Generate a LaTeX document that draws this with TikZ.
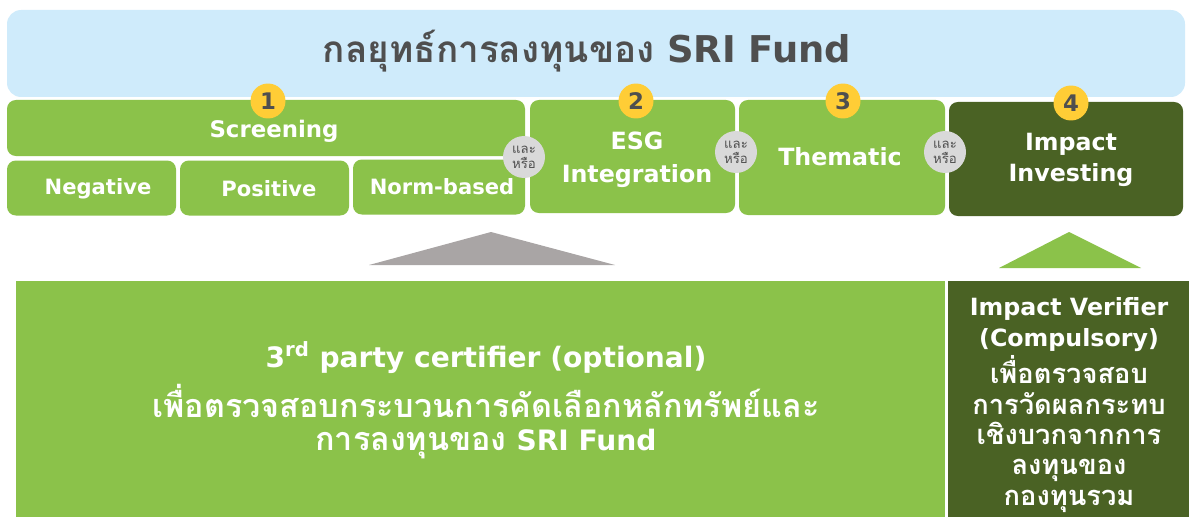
\documentclass[tikz,border=0pt]{standalone}
\usepackage{fontspec}
\setmainfont{DejaVu Sans}
\newfontfamily\thaifont[Script=Thai,Scale=1.15]{Loma}
\newfontfamily\thaititle[Script=Thai]{Loma}
\definecolor{skyband}{HTML}{CFEBFB}
\definecolor{leafgreen}{HTML}{8BC24A}
\definecolor{darkleaf}{HTML}{4A6224}
\definecolor{badgeyellow}{HTML}{FFCD36}
\definecolor{andorgrey}{HTML}{D9D9D9}
\definecolor{arrowgrey}{HTML}{A9A5A5}
\definecolor{titlegrey}{HTML}{4F4F4F}
\tikzset{
  pxbox/.style 2 args={rectangle, rounded corners=5pt, inner sep=0pt,
    minimum width={#1*0.02cm}, minimum height={#2*0.02cm},
    text=white, font=\bfseries, align=center},
  boxtext/.style={text=white, align=center, inner sep=0pt},
  badge/.style={circle, fill=badgeyellow, minimum size=0.7cm, inner sep=0pt,
    text=titlegrey, font=\bfseries\fontsize{13}{13}\selectfont},
  andor/.style={circle, fill=andorgrey, minimum size=0.84cm, inner sep=0pt,
    text=titlegrey, align=center, font=\thaititle\fontsize{7.5}{8.5}\selectfont}
}
\begin{document}
\begin{tikzpicture}[x=0.02cm, y=-0.02cm]
  \useasboundingbox (0,0) rectangle (1189,517);
  % title band
  \node[pxbox={1178}{87}, fill=skyband, rounded corners=8pt] (band) at (596,53.5) {};
  \node[text=titlegrey, font=\bfseries\fontsize{21}{24}\selectfont] (title) at (587,51)
    {{\thaititle กลยุทธ์การลงทุนของ} SRI Fund};
  % strategy boxes
  \node[pxbox={518}{56}, fill=leafgreen] (screen) at (266,128) {};
  \node[boxtext, font=\bfseries\fontsize{13}{15}\selectfont] (screentxt) at (274,131) {Screening};
  \node[pxbox={169}{55}, fill=leafgreen] (neg) at (91.5,188) {};
  \node[pxbox={169}{55}, fill=leafgreen] (pos) at (264.5,188) {};
  \node[pxbox={172}{55}, fill=leafgreen] (norm) at (439,187) {};
  \node[boxtext, font=\bfseries\fontsize{12}{14}\selectfont] (negtxt) at (98,189) {Negative};
  \node[boxtext, font=\bfseries\fontsize{12}{14}\selectfont] (postxt) at (269,189) {Positive};
  \node[boxtext, font=\bfseries\fontsize{12}{14}\selectfont] (normtxt) at (442,187) {Norm-based};
  \node[pxbox={205}{113}, fill=leafgreen] (esg) at (632.5,156.5) {};
  \node[boxtext, font=\bfseries\fontsize{13.5}{18.7}\selectfont] (esgtxt) at (637,160) {ESG\\Integration};
  \node[pxbox={206}{115}, fill=leafgreen] (thematic) at (842,157.5) {};
  \node[boxtext, font=\bfseries\fontsize{13.5}{18}\selectfont] (thematictxt) at (840,157) {Thematic};
  \node[pxbox={234}{114}, fill=darkleaf] (impact) at (1066,159) {};
  \node[boxtext, font=\bfseries\fontsize{13.5}{17.6}\selectfont] (impacttxt) at (1071,160) {Impact\\Investing};
  % numbers
  \node[badge] (b1) at (268,101) {1};
  \node[badge] (b2) at (636,101) {2};
  \node[badge] (b3) at (843,101) {3};
  \node[badge] (b4) at (1071,103) {4};
  % and / or
  \node[andor] (ao1) at (524,157) {และ\\หรือ};
  \node[andor] (ao2) at (736,152) {และ\\หรือ};
  \node[andor] (ao3) at (945,152) {และ\\หรือ};
  % pointers
  \fill[arrowgrey] (491,232) -- (615,265) -- (369,265) -- cycle;
  \fill[leafgreen] (1069,232) -- (1141,268) -- (999,268) -- cycle;
  % verifiers
  \node[pxbox={929}{236}, fill=leafgreen, rounded corners=0pt] (third) at (480.5,399) {};
  \node[pxbox={241}{236}, fill=darkleaf, rounded corners=0pt] (verifier) at (1068.5,399) {};
  \node[boxtext, font=\bfseries\fontsize{16}{18.7}\selectfont] (thirdtxt) at (486,400)
    {3\textsuperscript{rd} party certifier (optional)\\[5pt]
     {\thaifont เพื่อตรวจสอบกระบวนการคัดเลือกหลักทรัพย์และ}\\
     {\thaifont การลงทุนของ} SRI Fund};
  \node[boxtext, font=\bfseries\fontsize{13.5}{17.3}\selectfont] (verifytxt) at (1069,405)
    {Impact Verifier\\(Compulsory)\\[1.5pt]
     {\thaifont เพื่อตรวจสอบ}\\{\thaifont การวัดผลกระทบ}\\{\thaifont เชิงบวกจากการ}\\
     {\thaifont ลงทุนของ}\\{\thaifont กองทุนรวม}};
\end{tikzpicture}
\end{document}
